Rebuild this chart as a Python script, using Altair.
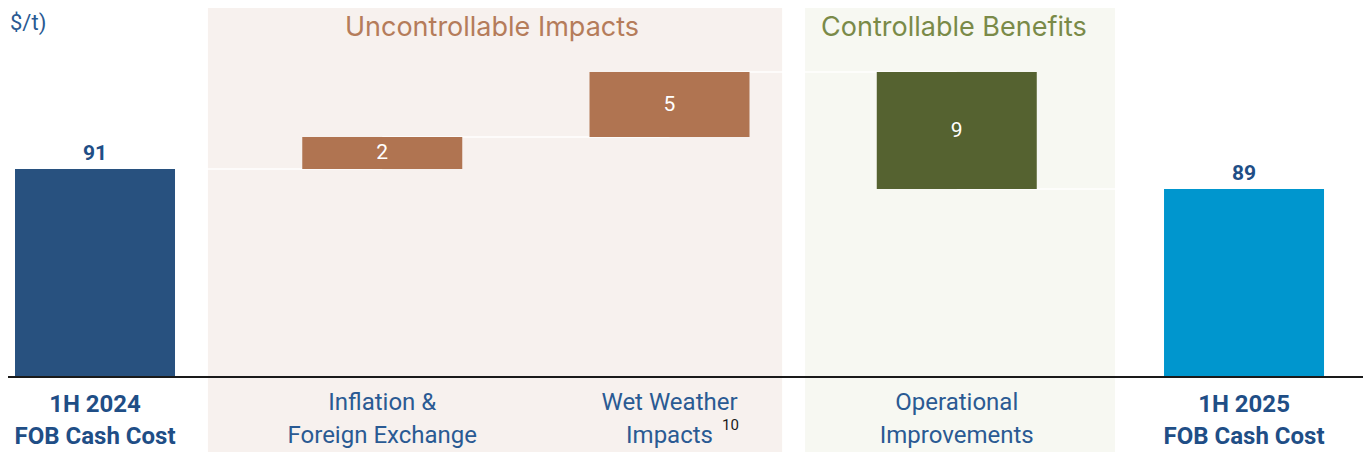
import altair as alt
import pandas as pd

# ---- data ----
categories = ["1H 2024\nFOB Cash Cost", "Inflation &\nForeign Exchange", "Wet Weather\nImpacts",
              "Operational\nImprovements", "1H 2025\nFOB Cash Cost"]
start_value = 91.0
deltas = [2.46, 5.0, -9.0]
end_value = 89.46
value_labels = ["91", "2", "5", "9", "89"]
bar_colors = ["#28517f", "#b07451", "#b07451", "#556230", "#0096ce"]

region_names = ["Uncontrollable Impacts", "Controllable Benefits"]
region_from = [0.393, 2.472]
region_to = [2.392, 3.551]
region_fill = ["#f7f1ee", "#f7f8f2"]
region_text_color = ["#b57c5a", "#7a8a48"]
region_text_x = [1.382, 2.99]

unit_label = "$/t)"
footnote = "10"

base_value = 75.0
y_domain = [69.231, 103.385]
x_domain = [-0.3029, 4.4142]

# ---- build tables ----
rows = []
level = start_value
rows.append(dict(i=0, cat=categories[0], lo=base_value, hi=start_value, lab=value_labels[0],
                 color=bar_colors[0], total=True, end=start_value))
for k, d in enumerate(deltas):
    new = level + d
    rows.append(dict(i=k + 1, cat=categories[k + 1], lo=min(level, new), hi=max(level, new),
                     lab=value_labels[k + 1], color=bar_colors[k + 1], total=False, end=new))
    level = new
rows.append(dict(i=4, cat=categories[4], lo=base_value, hi=end_value, lab=value_labels[4],
                 color=bar_colors[4], total=True, end=end_value))
df = pd.DataFrame(rows)
df["mid"] = (df["lo"] + df["hi"]) / 2
df["next_i"] = df["i"] + 1

conn = df[df["i"] < 4].copy()

regions = pd.DataFrame(dict(name=region_names, x0=region_from, x1=region_to, fill=region_fill,
                            tcolor=region_text_color, tx=region_text_x))

FONT = "Roboto"
xs = alt.Scale(domain=x_domain, nice=False, zero=False, padding=0)
ys = alt.Scale(domain=y_domain, nice=False, zero=False, padding=0)


def X(f):
    return alt.X(f, type="quantitative", scale=xs, axis=None)


def Y(f):
    return alt.Y(f, type="quantitative", scale=ys, axis=None)


def YD(v):
    return alt.Y(datum=v, type="quantitative", scale=ys, axis=None)


shade = alt.Chart(regions).mark_rect().encode(
    x=X("x0"), x2="x1",
    y=YD(y_domain[1]), y2=alt.datum(y_domain[0]),
    color=alt.Color("fill:N", scale=None),
)

region_titles = alt.Chart(regions).mark_text(
    font="Inter", fontSize=27, fontWeight=400, baseline="middle"
).encode(
    x=X("tx"), y=YD(101.85),
    text="name:N", color=alt.Color("tcolor:N", scale=None),
)

connectors = alt.Chart(conn).mark_rule(color="#ffffff", strokeWidth=1.5, opacity=0.9).encode(
    x=X("i"), x2="next_i", y=Y("end"),
)

bars = alt.Chart(df).mark_bar(size=160).encode(
    x=X("i"), y=Y("lo"), y2="hi", color=alt.Color("color:N", scale=None),
)

axis_line = alt.Chart(df.head(1)).mark_rule(color="#1a1a1a", strokeWidth=2).encode(
    y=YD(base_value),
)

total_vals = alt.Chart(df[df["total"]]).mark_text(
    font=FONT, fontSize=21, fontWeight="bold", color="#1f4e86", baseline="alphabetic", dy=-9
).encode(x=X("i"), y=Y("hi"), text="lab:N")

delta_vals = alt.Chart(df[~df["total"]]).mark_text(
    font=FONT, fontSize=21, color="#ffffff", baseline="middle"
).encode(x=X("i"), y=Y("mid"), text="lab:N")

cat_bold = alt.Chart(df[df["total"]]).mark_text(
    font=FONT, fontSize=24, fontWeight="bold", color="#1f4e86", baseline="alphabetic",
    lineBreak="\n", lineHeight=32, dy=35
).encode(x=X("i"), y=YD(base_value), text="cat:N")

cat_reg = alt.Chart(df[~df["total"]]).mark_text(
    font=FONT, fontSize=24, color="#2a5a93", baseline="alphabetic",
    lineBreak="\n", lineHeight=33, dy=33
).encode(x=X("i"), y=YD(base_value), text="cat:N")

note = alt.Chart(df[df["i"] == 2]).mark_text(
    font=FONT, fontSize=15, color="#1a1a1a", baseline="alphabetic", align="center", dx=61, dy=53
).encode(x=X("i"), y=YD(base_value), text=alt.value(footnote))

unit = alt.Chart(df.head(1)).mark_text(
    font=FONT, fontSize=22, color="#2a5a93", align="left", baseline="top", dx=2, dy=5
).encode(x=alt.X(datum=x_domain[0], type="quantitative", scale=xs, axis=None),
         y=YD(y_domain[1]), text=alt.value(unit_label))

chart = alt.layer(
    shade, region_titles, connectors, bars, axis_line, total_vals, delta_vals,
    cat_bold, cat_reg, note, unit
).properties(
    width=1355, height=444, autosize=alt.AutoSizeParams(type="none"),
    padding={"left": 0, "top": 0, "right": 0, "bottom": 0},
    background="#ffffff",
).configure_view(stroke=None)

chart.save("out.html", embed_options={"renderer": "svg", "actions": False})
